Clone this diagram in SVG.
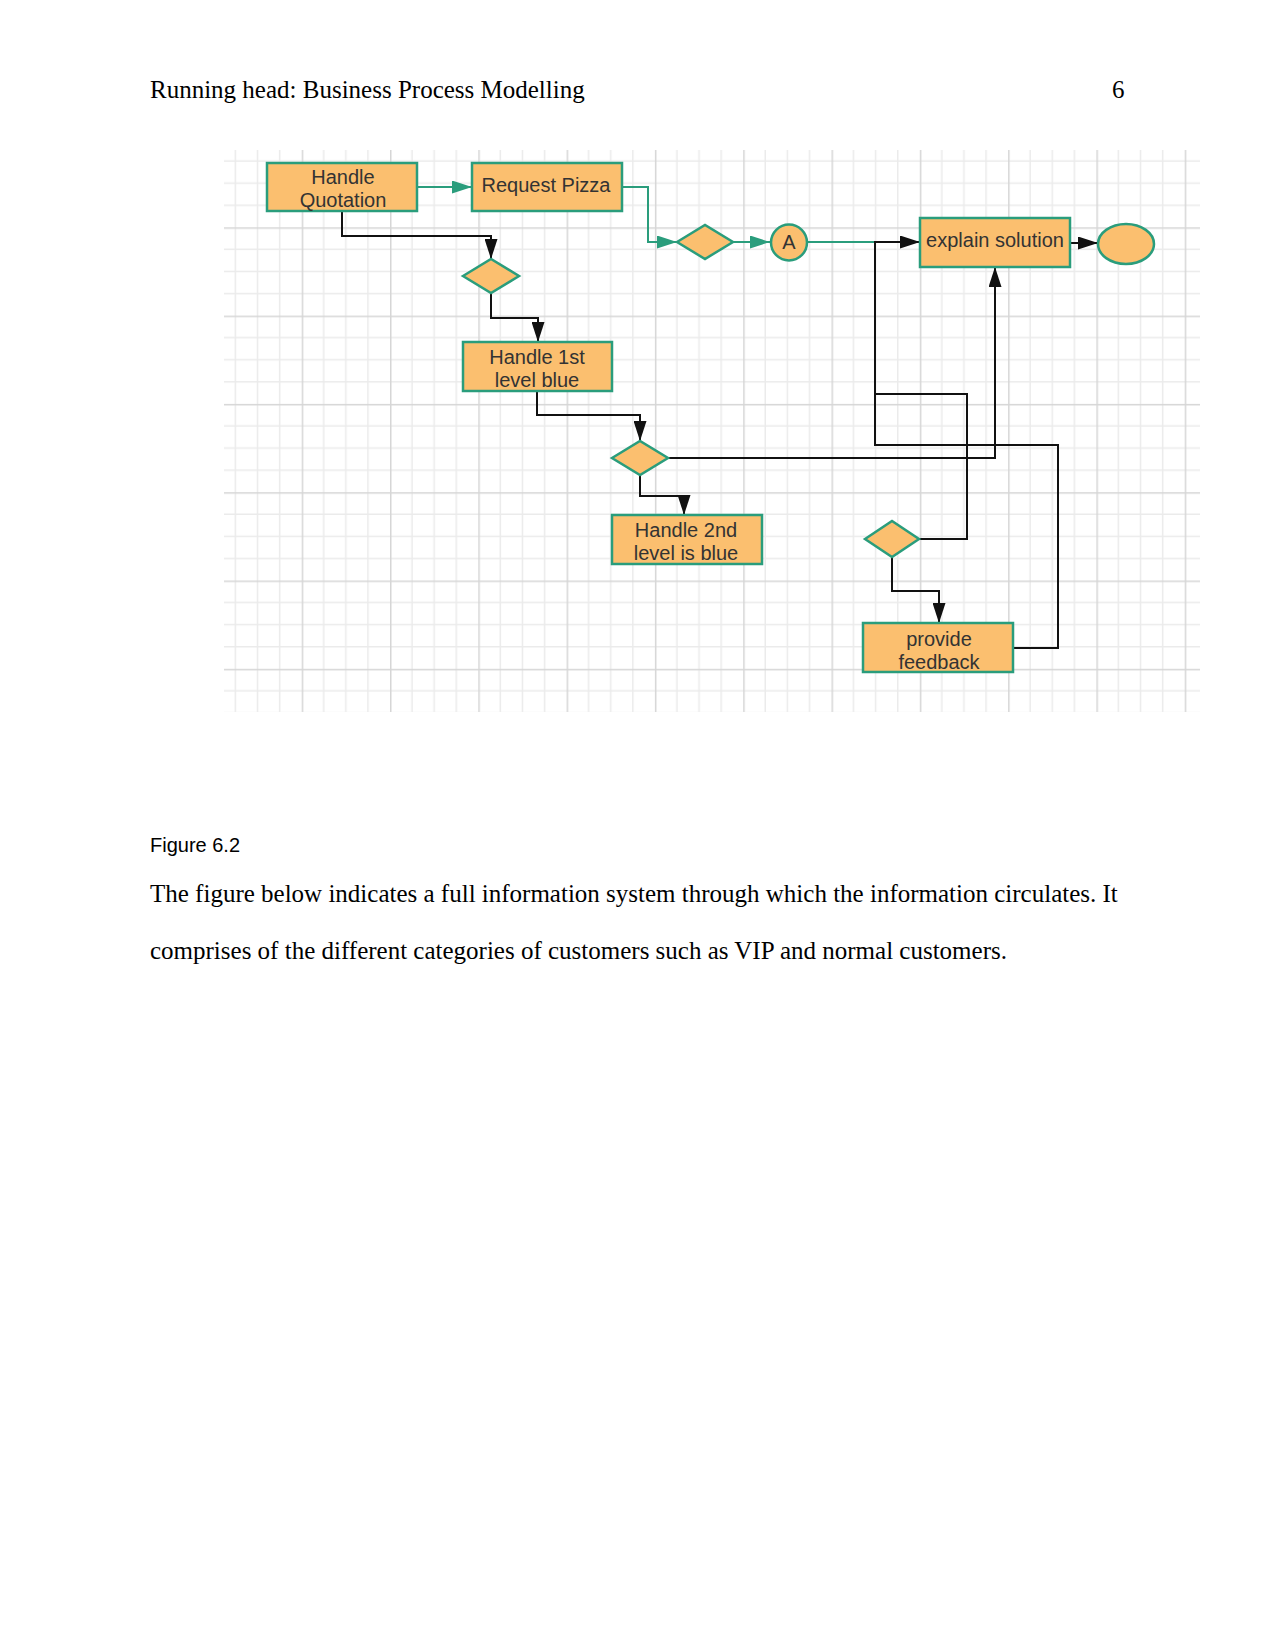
<svg xmlns="http://www.w3.org/2000/svg" width="1275" height="1651" viewBox="0 0 1275 1651">
<style>
.page{font-family:"Liberation Serif","Times New Roman",serif;font-size:25px;fill:#000}
.cap{font-family:"Liberation Sans",Arial,sans-serif;font-size:20px;fill:#000}
.box{fill:#fbbf6f;stroke:#2a9d7c;stroke-width:2.5}
.lbl{font-family:"Liberation Sans",Arial,sans-serif;font-size:20px;fill:#333;text-anchor:middle}
.blk{fill:none;stroke:#111;stroke-width:2}
.tl{fill:none;stroke:#2a9d7c;stroke-width:2}
</style>
<defs>
<pattern id="grid" patternUnits="userSpaceOnUse" x="213.4" y="139" width="88.3" height="88.3">
<path d="M22.075,0V88.3M44.15,0V88.3M66.225,0V88.3M0,22.075H88.3M0,44.15H88.3M0,66.225H88.3" stroke="#ebebeb" stroke-width="1.5" fill="none"/>
<path d="M0.75,0V88.3M0,0.75H88.3" stroke="#d6d6d6" stroke-width="1.5" fill="none"/>
</pattern>
<marker id="ab" markerUnits="userSpaceOnUse" markerWidth="20" markerHeight="13" refX="20" refY="6.5" orient="auto"><path d="M0,0L20,6.5L0,13z" fill="#111"/></marker>
<marker id="at" markerUnits="userSpaceOnUse" markerWidth="20" markerHeight="13" refX="20" refY="6.5" orient="auto"><path d="M0,0L20,6.5L0,13z" fill="#2a9d7c"/></marker>
</defs>
<rect width="1275" height="1651" fill="#fff"/>
<text class="page" x="150" y="98">Running head: Business Process Modelling</text>
<text class="page" x="1112" y="98">6</text>
<rect x="224" y="150" width="976" height="562" fill="url(#grid)"/>
<g id="connectors">
<path class="tl" d="M417,187H472" marker-end="url(#at)"/>
<path class="tl" d="M622,187H648V242H677" marker-end="url(#at)"/>
<path class="tl" d="M733,242H770" marker-end="url(#at)"/>
<path class="tl" d="M807,242H875"/>
<path class="blk" d="M1070,243H1098" marker-end="url(#ab)"/>
<path class="blk" d="M342,211V236H491V259" marker-end="url(#ab)"/>
<path class="blk" d="M491,293V318H538V342" marker-end="url(#ab)"/>
<path class="blk" d="M537,391V415H640V441" marker-end="url(#ab)"/>
<path class="blk" d="M640,475V496H684V515" marker-end="url(#ab)"/>
<path class="blk" d="M668,458H995V267" marker-end="url(#ab)"/>
<path class="blk" d="M919,539H967V394H875"/>
<path class="blk" d="M1013,648H1058V445H875V242H920" marker-end="url(#ab)"/>
<path class="blk" d="M892,556V591H939V623" marker-end="url(#ab)"/>
</g>
<g id="handle-quotation"><rect class="box" x="267" y="163" width="150" height="48"/><text class="lbl" x="343" y="184">Handle</text><text class="lbl" x="343" y="207">Quotation</text></g>
<g id="request-pizza"><rect class="box" x="472" y="163" width="150" height="48"/><text class="lbl" x="546" y="192">Request Pizza</text></g>
<g id="decision-3"><path class="box" d="M677,242L705,225L733,242L705,259z"/></g>
<g id="connector-a"><circle class="box" cx="789" cy="242.5" r="18"/><text class="lbl" x="789" y="249">A</text></g>
<g id="explain-solution"><rect class="box" x="920" y="218" width="150" height="49"/><text class="lbl" x="995" y="247">explain solution</text></g>
<g id="end"><ellipse class="box" cx="1126" cy="244" rx="28" ry="20"/></g>
<g id="decision-1"><path class="box" d="M463,276L491,259L519,276L491,293z"/></g>
<g id="handle-1st"><rect class="box" x="463" y="342" width="149" height="49"/><text class="lbl" x="537" y="364">Handle 1st</text><text class="lbl" x="537" y="387">level blue</text></g>
<g id="decision-2"><path class="box" d="M612,458L640,441L668,458L640,475z"/></g>
<g id="handle-2nd"><rect class="box" x="612" y="515" width="150" height="49"/><text class="lbl" x="686" y="537">Handle 2nd</text><text class="lbl" x="686" y="560">level is blue</text></g>
<g id="decision-4"><path class="box" d="M865,539L892,521L919,539L892,557z"/></g>
<g id="provide-feedback"><rect class="box" x="863" y="623" width="150" height="49"/><text class="lbl" x="939" y="646">provide</text><text class="lbl" x="939" y="669">feedback</text></g>
<text class="cap" x="150" y="852">Figure 6.2</text>
<text class="page" x="150" y="902">The figure below indicates a full information system through which the information circulates. It</text>
<text class="page" x="150" y="959">comprises of the different categories of customers such as VIP and normal customers.</text>
</svg>
